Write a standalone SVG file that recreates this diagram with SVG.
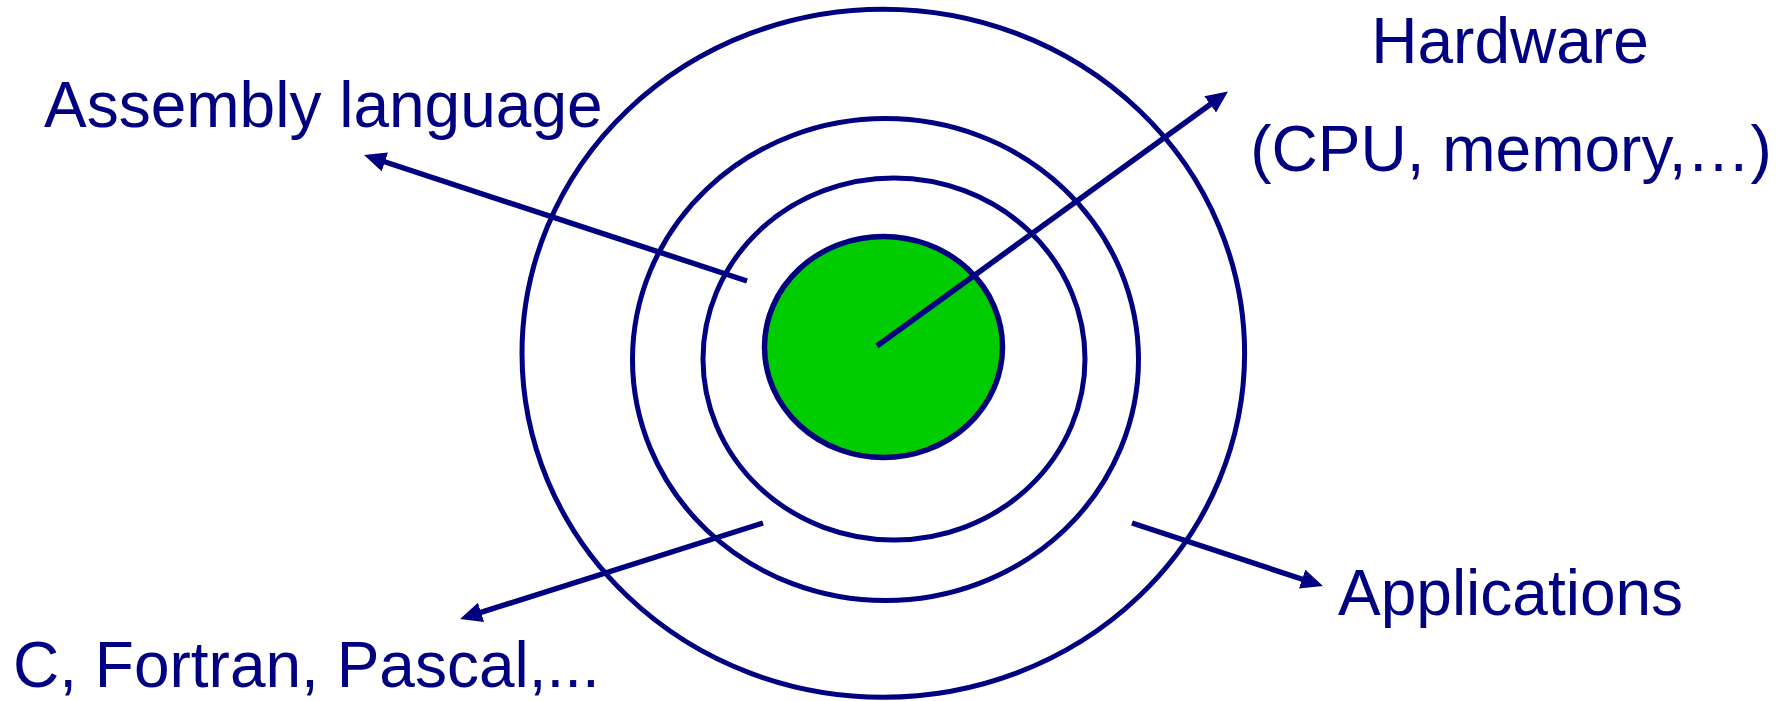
<svg xmlns="http://www.w3.org/2000/svg" width="1787" height="701" viewBox="0 0 1787 701">
<style>
.ring{fill:none;stroke:#000080;stroke-width:5}
.core{fill:#00CC00;stroke:#000080;stroke-width:5.5}
.conn{stroke:#000080;stroke-width:5.5;fill:none;marker-end:url(#ah)}
.lbl{font-family:"Liberation Sans",Arial,sans-serif;font-size:64px;fill:#000080}
</style>
<defs>
<marker id="ah" markerUnits="userSpaceOnUse" markerWidth="24" markerHeight="22" refX="6" refY="10" orient="auto">
<path d="M0,0 L22,10 L0,20 z" fill="#000080"/>
</marker>
</defs>
<rect width="1787" height="701" fill="#ffffff"/>
<g id="outer-ring"><ellipse class="ring" cx="883.3" cy="353.3" rx="361.3" ry="344"/></g>
<g id="ring-3"><ellipse class="ring" cx="885.5" cy="359.6" rx="253" ry="241"/></g>
<g id="ring-2"><ellipse class="ring" cx="894" cy="359" rx="191" ry="181"/></g>
<g id="core"><ellipse class="core" cx="883.5" cy="347" rx="119" ry="110.5"/></g>
<g id="connectors">
<line class="conn" x1="747" y1="281" x2="379.2" y2="160"/>
<line class="conn" x1="877" y1="346" x2="1215" y2="100.9"/>
<line class="conn" x1="763" y1="523" x2="475.3" y2="614.2"/>
<line class="conn" x1="1132" y1="523" x2="1307.8" y2="581"/>
</g>
<g id="label-assembly"><text class="lbl" x="44" y="126.5">Assembly language</text></g>
<g id="label-hardware">
<text class="lbl" x="1510" y="62.5" text-anchor="middle">Hardware</text>
<text class="lbl" x="1511" y="171" text-anchor="middle">(CPU, memory,…)</text>
</g>
<g id="label-c"><text class="lbl" x="13" y="686.5">C, Fortran, Pascal,...</text></g>
<g id="label-applications"><text class="lbl" x="1338" y="615">Applications</text></g>
</svg>
